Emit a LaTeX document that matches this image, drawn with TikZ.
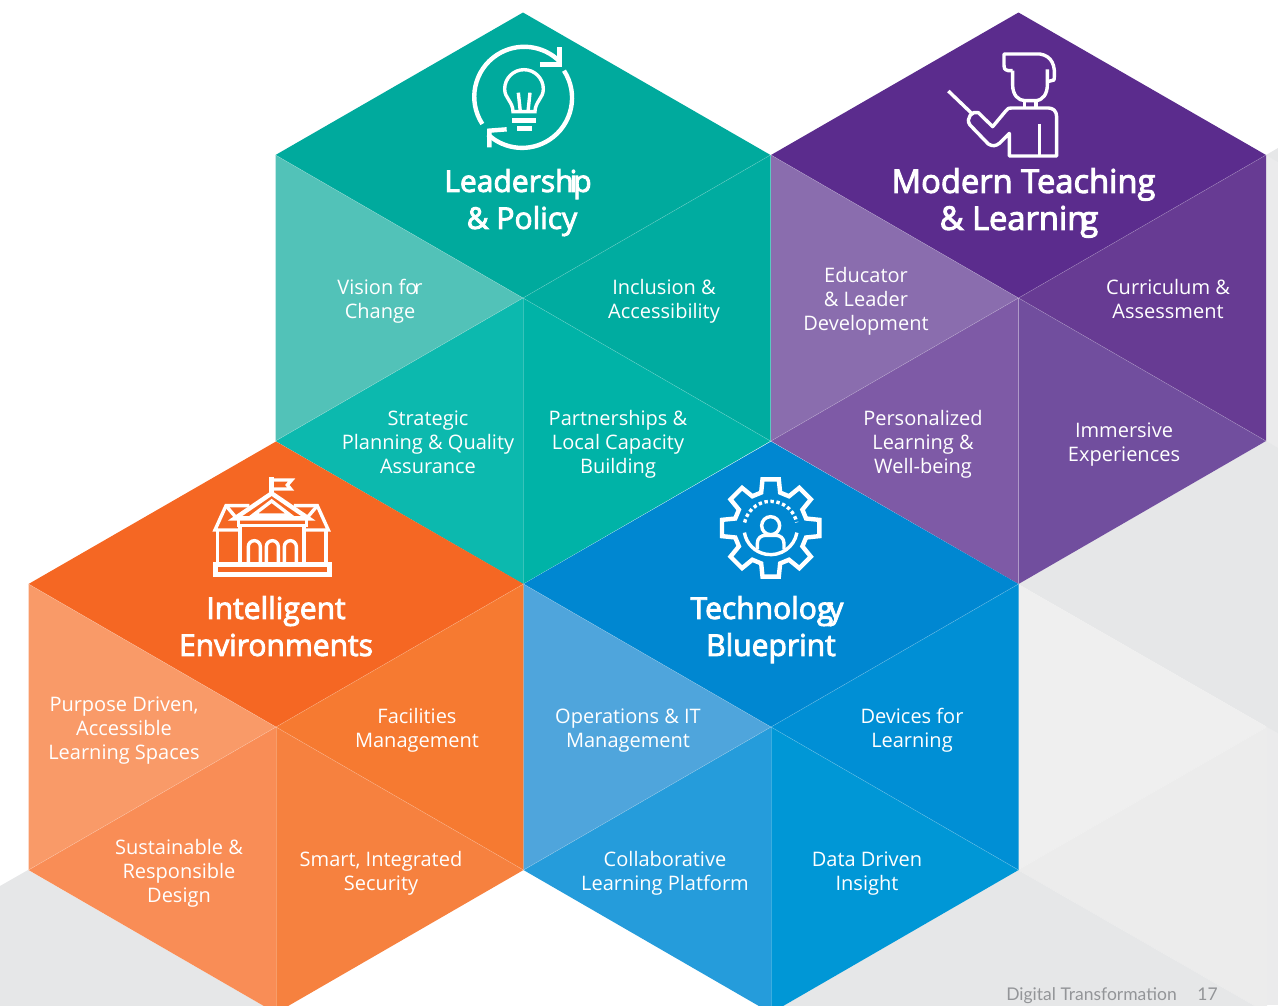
\documentclass[tikz,border=0pt]{standalone}
\usepackage{fontspec}
\setmainfont{Open Sans}
\newfontfamily\titlefont[FakeBold=3]{Open Sans}
\newfontfamily\footfont{Lato}
\definecolor{leadA}{RGB}{0,170,157}
\definecolor{leadB}{RGB}{0,172,160}
\definecolor{leadC}{RGB}{0,179,167}
\definecolor{leadD}{RGB}{12,185,174}
\definecolor{leadE}{RGB}{82,194,184}
\definecolor{teachA}{RGB}{91,44,141}
\definecolor{teachB}{RGB}{103,59,147}
\definecolor{teachC}{RGB}{113,78,158}
\definecolor{teachD}{RGB}{126,90,166}
\definecolor{teachE}{RGB}{138,109,174}
\definecolor{envA}{RGB}{245,103,35}
\definecolor{envB}{RGB}{246,122,49}
\definecolor{envC}{RGB}{246,129,63}
\definecolor{envD}{RGB}{249,141,86}
\definecolor{envE}{RGB}{249,154,104}
\definecolor{techA}{RGB}{0,135,209}
\definecolor{techB}{RGB}{0,143,213}
\definecolor{techC}{RGB}{0,151,214}
\definecolor{techD}{RGB}{37,156,219}
\definecolor{techE}{RGB}{79,165,220}
\definecolor{greyA}{RGB}{230,231,232}
\definecolor{greyB}{RGB}{239,239,239}
\definecolor{greyC}{RGB}{236,236,236}
\definecolor{greyD}{RGB}{235,235,236}
\definecolor{footGrey}{RGB}{147,149,152}
\begin{document}
\begin{tikzpicture}[x=1pt,y=-1pt,
    every node/.style={text=white, inner sep=0pt},
    title/.style={font=\titlefont\fontsize{30}{37}\selectfont},
    titlebig/.style={font=\titlefont\fontsize{32.7}{37}\selectfont},
    sub/.style={font=\fontsize{20}{24}\selectfont},
    foot/.style={text=footGrey, anchor=base, font=\footfont\fontsize{17.5}{22}\selectfont},
    seam/.style={draw=white, draw opacity=0.22, line width=0.6pt},
    icon/.style={draw=white, line width=4.4pt, line join=miter},
    thinicon/.style={draw=white, line width=3.4pt}]
    \useasboundingbox (0,0) rectangle (1278,1005);
    \clip (0,0) rectangle (1278,1005);
    \fill[greyD] (1266,155) rectangle (1278,1005);
    \fill[greyA] (1266,155) -- (1278,148) -- (1278,162) -- cycle;
    \fill[greyA] (1018,584) -- (1266,441) -- (1278,448) -- (1278,733) -- (1267,727) -- cycle;
    \fill[greyB] (1018,584) -- (1267,727) -- (1018,870) -- cycle;
    \fill[greyC] (1018,870) -- (1267,727) -- (1267,1013) -- cycle;
    \fill[greyA] (1018,870) -- (1267,1013) -- (771,1013) -- cycle;
    \fill[greyA] (0,886) -- (28,870) -- (276,1013) -- (0,1013) -- cycle;
    \foreach \cx/\cy/\name in {523/298/lead,1018.5/298/teach,276/727/env,771/727/tech} {
        \begin{scope}[shift={(\cx,\cy)}]
            \fill[\name A] (0,0) -- (-247.5,-143) -- (0,-285.5) -- (247.5,-143) -- cycle;
            \fill[\name B] (0,0) -- (247.5,-143) -- (247.5,143) -- cycle;
            \fill[\name C] (0,0) -- (247.5,143) -- (0,286) -- cycle;
            \fill[\name D] (0,0) -- (0,286) -- (-247.5,143) -- cycle;
            \fill[\name E] (0,0) -- (-247.5,143) -- (-247.5,-143) -- cycle;
            \foreach \px/\py in {247.5/-143,247.5/143,0/286,-247.5/143,-247.5/-143}
                \draw[seam] (0,0) -- (\px,\py);
        \end{scope}
    }
    \node [title] (leadTitle) at (518,203) {\begin{tabular}{c}Leadersh\kern-4pt i\kern-4pt p\\\hspace*{8pt}\& Policy\end{tabular}};
    \node [titlebig] (teachTitle) at (1023.5,204) {\begin{tabular}{c}Modern Teaching\\\hspace*{-9pt}\& Learnin\kern-7pt g\end{tabular}};
    \node [title] (envTitle) at (276,630) {\begin{tabular}{c}Intelligent\\Environments\end{tabular}};
    \node [title] (techTitle) at (771,630) {\begin{tabular}{c}\hspace*{-8pt}Technolog\kern-5pt y\\Blueprint\end{tabular}};
    \node [sub] (vision) at (380,302) {\begin{tabular}{c}Vision fo\kern-3pt r\\Change\end{tabular}};
    \node [sub] (inclusion) at (664,302) {\begin{tabular}{c}Inclusion \&\\Accessibility\end{tabular}};
    \node [sub] (strategic) at (428,445) {\begin{tabular}{c}Strategic\\Planning \& Quality\\Assurance\end{tabular}};
    \node [sub] (partners) at (618,445) {\begin{tabular}{c}Partnerships \&\\Local Capacity\\Building\end{tabular}};
    \node [sub] (educator) at (866,302) {\begin{tabular}{c}Educator\\\& Leader\\Development\end{tabular}};
    \node [sub] (curriculum) at (1168,302) {\begin{tabular}{c}Curriculum \&\\Assessment\end{tabular}};
    \node [sub] (personal) at (923,445) {\begin{tabular}{c}Personalized\\Learning \&\\Well-being\end{tabular}};
    \node [sub] (immersive) at (1124,445) {\begin{tabular}{c}Immersive\\Experiences\end{tabular}};
    \node [sub] (purpose) at (124,731) {\begin{tabular}{c}Purpose Driven,\\Accessible\\Learning Spaces\end{tabular}};
    \node [sub] (facilities) at (417,731) {\begin{tabular}{c}Facilities\\Management\end{tabular}};
    \node [sub] (sustain) at (179,874) {\begin{tabular}{c}Sustainable \&\\Responsible\\Design\end{tabular}};
    \node [sub] (smart) at (381,874) {\begin{tabular}{c}Smart, Integrated\\Security\end{tabular}};
    \node [sub] (operations) at (628,731) {\begin{tabular}{c}Operations \& IT\\Management\end{tabular}};
    \node [sub] (devices) at (912,731) {\begin{tabular}{c}Devices for\\Learning\end{tabular}};
    \node [sub] (collab) at (665,874) {\begin{tabular}{c}Collaborative\\Learning Platform\end{tabular}};
    \node [sub] (data) at (867,874) {\begin{tabular}{c}Data Driven\\Insight\end{tabular}};
    \node [foot] (footText) at (1091.5,1000.5) {Digital Transformation};
    \node [foot] (footPage) at (1207.5,1000.5) {17};
    \begin{scope}[shift={(440,20)},x=0.3333pt,y=-0.3333pt]
        \draw[icon] (127,312) arc[start angle=147,end angle=316,radius=150];
        \draw[icon] (300,133) -- (358,133) -- (358,80);
        \draw[icon] (372,152) arc[start angle=-33,end angle=133,radius=150];
        \draw[icon] (200,328) -- (148,332) -- (148,382);
        \draw[thinicon] (219,275) .. controls (219,245) and (194,235) .. (194,207) arc[start angle=180,end angle=360,radius=58] .. controls (310,235) and (285,245) .. (285,275) -- cycle;
        \draw[thinicon] (235,218) -- (241,275) (270,218) -- (264,275);
        \fill[white] (215,293) rectangle (288,308);
        \fill[white] (230,318) rectangle (275,332);
    \end{scope}
    \begin{scope}[shift={(930,30)},x=0.3333pt,y=-0.3333pt]
        \draw[thinicon,line join=round] (248,122) -- (235,122) .. controls (222,118) .. (222,95) -- (222,72) -- (330,72) .. controls (365,78) and (378,105) .. (372,150) -- (352,155);
        \draw[thinicon,line join=round] (248,122) -- (248,165) .. controls (248,195) and (265,212) .. (285,212) -- (315,212) .. controls (340,212) and (352,190) .. (352,165) -- (352,118);
        \draw[thinicon] (283,212) -- (283,234) (318,212) -- (318,234);
        \draw[thinicon,line join=round] (380,378) -- (380,260) .. controls (380,242) and (368,234) .. (355,234) -- (245,234) .. controls (235,234) .. (228,242) -- (188,290) -- (145,248) .. controls (128,240) and (105,265) .. (120,285) -- (175,342) .. controls (188,350) and (198,348) .. (208,340) -- (238,310) -- (238,378) -- cycle;
        \draw[thinicon] (328,282) -- (328,378);
        \draw[thinicon] (55,183) -- (125,250);
    \end{scope}
    \begin{scope}[shift={(190,465)},x=0.3333pt,y=-0.3333pt]
        \draw[icon] (245,36) -- (245,85);
        \draw[thinicon] (245,45) -- (305,45) -- (292,60) -- (302,72) -- (245,72);
        \draw[icon] (135,160) -- (245,85) -- (355,160) -- cycle;
        \draw[thinicon] (190,150) -- (245,108) -- (300,150) -- cycle;
        \draw[thinicon] (178,122) -- (108,122) -- (75,195) -- (148,195);
        \draw[thinicon] (312,122) -- (382,122) -- (415,195) -- (345,195);
        \draw[thinicon] (108,122) -- (140,160) (382,122) -- (350,160);
        \draw[thinicon] (145,160) rectangle (350,182);
        \draw[thinicon] (82,195) -- (82,297) (408,195) -- (408,297);
        \draw[thinicon] (150,182) -- (150,297) (342,182) -- (342,297);
        \foreach \wx in {175,229,283}
            \draw[thinicon] (\wx,297) -- (\wx,245) arc[start angle=180,end angle=360,radius=18] -- ++(0,52);
        \draw[icon] (76,298) rectangle (418,328);
    \end{scope}
    \begin{scope}[shift={(700,465)},x=0.3333pt,y=-0.3333pt]
        \begin{scope}[shift={(212,189)}]
            \draw[icon,line join=miter] (-15:110) \foreach \ang in {0,45,...,315} {-- (\ang-15:110) -- (\ang-9.5:148) -- (\ang+9.5:148) -- (\ang+15:110)} -- cycle;
            \draw[thinicon] (10:80) arc[start angle=10,end angle=170,radius=80];
            \draw[thinicon,dash pattern=on 3.4pt off 2.6pt] (192:80) arc[start angle=192,end angle=348,radius=80];
            \draw[thinicon] (0,-7) circle[radius=27];
            \draw[thinicon] (-40,64) -- (-40,46) .. controls (-40,30) and (-28,22) .. (-15,22) -- (15,22) .. controls (28,22) and (40,30) .. (40,46) -- (40,64);
        \end{scope}
    \end{scope}
\end{tikzpicture}
\end{document}
